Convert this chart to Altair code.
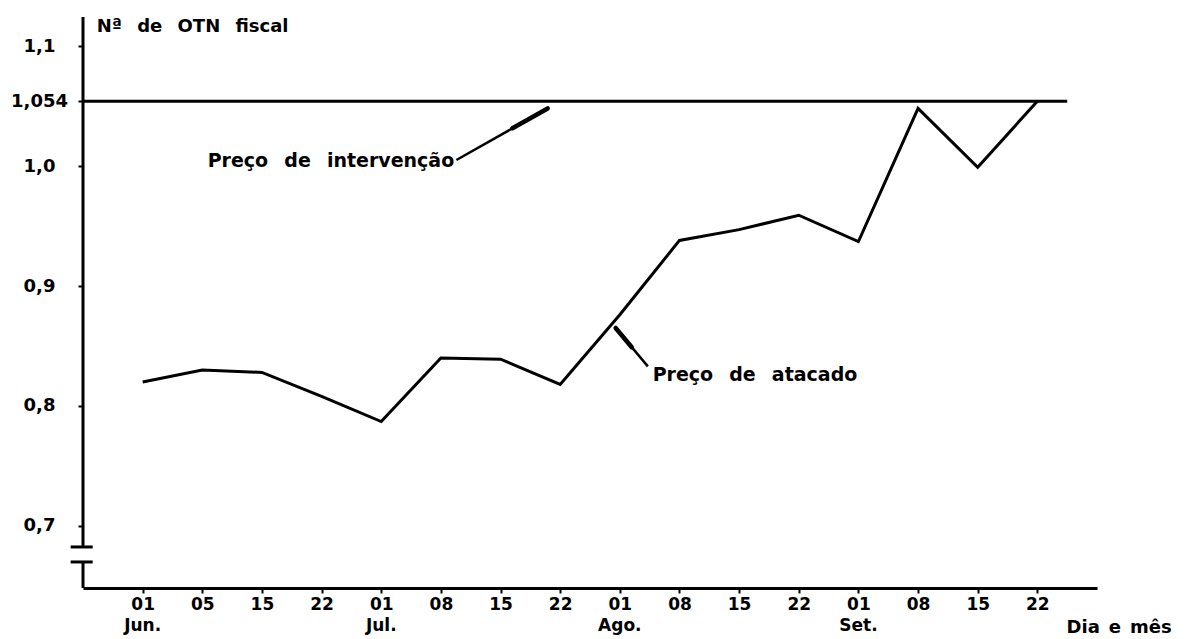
import altair as alt
import pandas as pd

# ---- data -------------------------------------------------------------
dias = ["01", "05", "15", "22", "01", "08", "15", "22",
        "01", "08", "15", "22", "01", "08", "15", "22"]
meses = ["Jun.", "Jul.", "Ago.", "Set."]
meses_idx = [0, 4, 8, 12]
preco_atacado = [0.820, 0.830, 0.828, 0.808, 0.787, 0.840, 0.839, 0.818,
                 0.876, 0.938, 0.947, 0.959, 0.937, 1.048, 0.999, 1.054]
preco_intervencao = 1.054
y_ticks = [0.7, 0.8, 0.9, 1.0, 1.054, 1.1]

FONT = "DejaVu Sans"
X_DOM = [-1, 16]
Y_DOM = [0.6483, 1.1242]
W, H = 1014, 571
SP = "\u2002 "  # wide word spacing, as in the lettering of the original

xs = alt.Scale(domain=X_DOM, nice=False, zero=False)
ys = alt.Scale(domain=Y_DOM, nice=False, zero=False)

df = pd.DataFrame({"idx": list(range(len(dias))), "preco": preco_atacado})

labels_expr = "[" + ",".join(f"'{d}'" for d in dias) + "][datum.value]"

# main line with axes
line = alt.Chart(df).mark_line(color="black", strokeWidth=3, strokeJoin="miter").encode(
    x=alt.X("idx:Q", scale=xs,
            axis=alt.Axis(values=list(range(len(dias))), labelExpr=labels_expr,
                          title=None, grid=False, domain=True, domainColor="black",
                          domainWidth=3, tickColor="black", tickWidth=2, tickSize=5,
                          labelFont=FONT, labelFontWeight="bold", labelFontSize=17,
                          labelColor="black", labelPadding=3, labelFlush=False)),
    y=alt.Y("preco:Q", scale=ys,
            axis=alt.Axis(values=y_ticks,
                          labelExpr="datum.value == 1.054 ? '1,054' : replace(format(datum.value, '.1f'), '.', ',')",
                          title=None, grid=False, domain=False, tickColor="black",
                          tickWidth=2, tickSize=5, labelFont=FONT, labelFontWeight="bold",
                          labelFontSize=18, labelColor="black", labelAlign="center",
                          labelPadding=39, labelBaseline="middle")),
)

# intervention price line
interv_df = pd.DataFrame({"x": [-1.0], "x2": [15.5], "y": [preco_intervencao]})
interv = alt.Chart(interv_df).mark_rule(color="black", strokeWidth=3).encode(
    x=alt.X("x:Q", scale=xs), x2="x2:Q", y=alt.Y("y:Q", scale=ys))

# broken y-axis line
axis_df = pd.DataFrame({"x": [-1.0, -1.0], "y": [Y_DOM[0], 0.6825], "y2": [0.670, Y_DOM[1]]})
yaxis = alt.Chart(axis_df).mark_rule(color="black", strokeWidth=3).encode(
    x=alt.X("x:Q", scale=xs), y=alt.Y("y:Q", scale=ys), y2="y2:Q")

brk_df = pd.DataFrame({"x": [-1.207, -1.207], "x2": [-0.838, -0.838], "y": [0.6825, 0.670]})
brk = alt.Chart(brk_df).mark_rule(color="black", strokeWidth=3).encode(
    x=alt.X("x:Q", scale=xs), x2="x2:Q", y=alt.Y("y:Q", scale=ys))

# leader lines
lead_df = pd.DataFrame({"x": [5.26, 7.93], "x2": [6.79, 8.47],
                        "y": [1.005, 0.865], "y2": [1.048, 0.833]})
leads = alt.Chart(lead_df).mark_rule(color="black", strokeWidth=2.5).encode(
    x=alt.X("x:Q", scale=xs), x2="x2:Q", y=alt.Y("y:Q", scale=ys), y2="y2:Q")
leadthick_df = pd.DataFrame({"x": [6.2, 7.93], "x2": [6.79, 8.2],
                             "y": [1.0315, 0.865], "y2": [1.048, 0.849]})
leadthick = alt.Chart(leadthick_df).mark_rule(color="black", strokeWidth=4.5, strokeCap="round").encode(
    x=alt.X("x:Q", scale=xs), x2="x2:Q", y=alt.Y("y:Q", scale=ys), y2="y2:Q")

# annotation texts
ann_df = pd.DataFrame({
    "x": [1.09, 8.55],
    "y": [1.004, 0.826],
    "t": [f"Preço{SP}de{SP}intervenção", f"Preço{SP}de{SP}atacado"],
})
ann = alt.Chart(ann_df).mark_text(align="left", baseline="middle", font=FONT,
                                  fontWeight="bold", fontSize=19, color="black").encode(
    x=alt.X("x:Q", scale=xs), y=alt.Y("y:Q", scale=ys), text="t:N")

xtitle_df = pd.DataFrame({"x": [15.49], "y": [0.615], "t": ["Dia\u2002e\u2002mês"]})
xtitle = alt.Chart(xtitle_df).mark_text(align="left", baseline="middle", font=FONT,
                                        fontWeight="bold", fontSize=18, color="black").encode(
    x=alt.X("x:Q", scale=xs), y=alt.Y("y:Q", scale=ys), text="t:N")

title_df = pd.DataFrame({"x": [-0.77], "y": [1.1158], "t": [f"Nª{SP}de{SP}OTN{SP}fiscal"]})
title = alt.Chart(title_df).mark_text(align="left", baseline="middle", font=FONT,
                                      fontWeight="bold", fontSize=18, color="black").encode(
    x=alt.X("x:Q", scale=xs), y=alt.Y("y:Q", scale=ys), text="t:N")

# month labels under the day labels
mes_df = pd.DataFrame({"idx": meses_idx, "mes": meses})
mes = alt.Chart(mes_df).mark_text(align="center", baseline="middle", font=FONT,
                                  fontWeight="bold", fontSize=17, color="black").encode(
    x=alt.X("idx:Q", scale=xs), y=alt.value(H + 38), text="mes:N")

chart = alt.layer(interv, yaxis, brk, leads, leadthick, line, ann, xtitle, title, mes).properties(
    width=W, height=H,
    padding={"left": 75, "top": 9, "right": 88, "bottom": 52},
    autosize=alt.AutoSizeParams(type="none"),
    background="white",
).configure_view(stroke=None)

chart.save("out.html", embed_options={"renderer": "svg", "actions": False})
